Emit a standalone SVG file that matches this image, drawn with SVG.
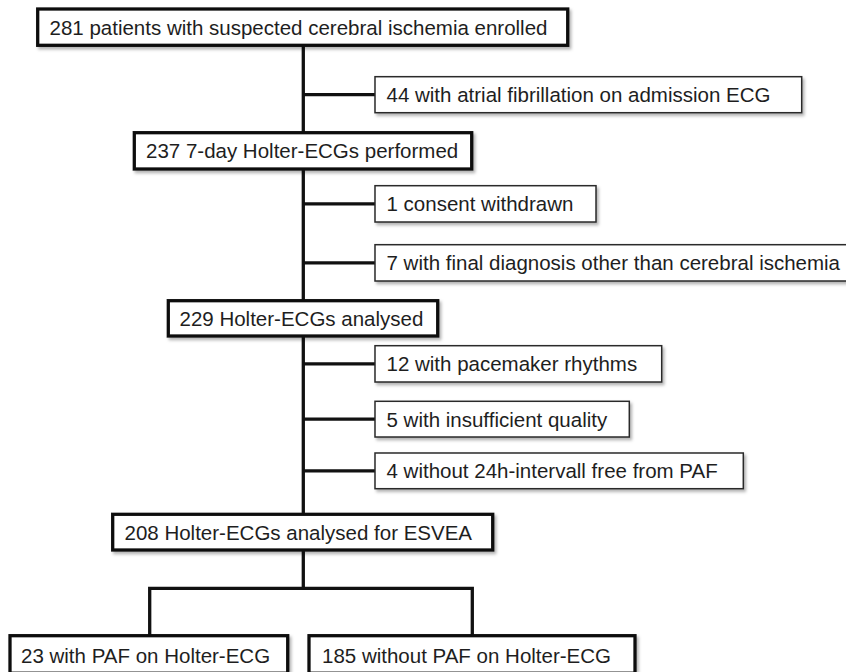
<svg xmlns="http://www.w3.org/2000/svg" width="846" height="672" viewBox="0 0 846 672">
<defs>
<filter id="sh" x="-5%" y="-20%" width="110%" height="150%">
<feDropShadow dx="2" dy="2.5" stdDeviation="1.5" flood-color="#000" flood-opacity="0.3"/>
</filter>
</defs>
<style>
.thick{fill:#fff;stroke:#111;stroke-width:3.3;filter:url(#sh)}
.thin{fill:#fff;stroke:#2a2a2a;stroke-width:1.5;filter:url(#sh)}
text{font-family:"Liberation Sans",Arial,sans-serif;font-size:20.5px;fill:#1e1e1e}
.c{stroke:#111;stroke-width:3.3;fill:none}
</style>
<rect width="846" height="672" fill="#fff"/>
<g id="connectors">
<line class="c" x1="303.3" y1="45" x2="303.3" y2="133"/>
<line class="c" x1="303.3" y1="169" x2="303.3" y2="301"/>
<line class="c" x1="303.3" y1="336" x2="303.3" y2="515"/>
<line class="c" x1="303.3" y1="550" x2="303.3" y2="588.3"/>
<line class="c" x1="303.3" y1="94.7" x2="375" y2="94.7"/>
<line class="c" x1="303.3" y1="203.8" x2="375" y2="203.8"/>
<line class="c" x1="303.3" y1="262.8" x2="375" y2="262.8"/>
<line class="c" x1="303.3" y1="363.8" x2="375" y2="363.8"/>
<line class="c" x1="303.3" y1="419.2" x2="375" y2="419.2"/>
<line class="c" x1="303.3" y1="470.8" x2="375" y2="470.8"/>
<polyline class="c" points="149.7,636 149.7,588.3 472.3,588.3 472.3,636"/>
</g>
<g id="n1"><rect class="thick" x="37.7" y="9" width="530" height="36.3"/><text x="49.5" y="34.5">281 patients with suspected cerebral ischemia enrolled</text></g>
<g id="n2"><rect class="thin" x="375" y="76.7" width="426.7" height="36"/><text x="386.5" y="102">44 with atrial fibrillation on admission ECG</text></g>
<g id="n3"><rect class="thick" x="134.3" y="132.7" width="337.4" height="36.3"/><text x="146" y="158.2">237 7-day Holter-ECGs performed</text></g>
<g id="n4"><rect class="thin" x="375" y="185.7" width="221" height="36.3"/><text x="386.5" y="211.2">1 consent withdrawn</text></g>
<g id="n5"><rect class="thin" x="375" y="244.7" width="480" height="36.3"/><text x="386.5" y="270.2">7 with final diagnosis other than cerebral ischemia</text></g>
<g id="n6"><rect class="thick" x="168.3" y="300.7" width="269.4" height="35.3"/><text x="179.5" y="325.7">229 Holter-ECGs analysed</text></g>
<g id="n7"><rect class="thin" x="375" y="345.7" width="286.7" height="36.3"/><text x="386.5" y="371.2">12 with pacemaker rhythms</text></g>
<g id="n8"><rect class="thin" x="375" y="401.3" width="254.3" height="35.7"/><text x="386.5" y="426.5">5 with insufficient quality</text></g>
<g id="n9"><rect class="thin" x="375" y="453" width="368.3" height="35.7"/><text x="386.5" y="478.2">4 without 24h-intervall free from PAF</text></g>
<g id="n10"><rect class="thick" x="112.7" y="514.3" width="380" height="35.7"/><text x="124.5" y="539.5">208 Holter-ECGs analysed for ESVEA</text></g>
<g id="n11"><rect class="thick" x="10" y="635.7" width="277.7" height="37.5"/><text x="21" y="662.5">23 with PAF on Holter-ECG</text></g>
<g id="n12"><rect class="thick" x="309" y="635.7" width="326" height="37.5"/><text x="322" y="662.5">185 without PAF on Holter-ECG</text></g>
</svg>
